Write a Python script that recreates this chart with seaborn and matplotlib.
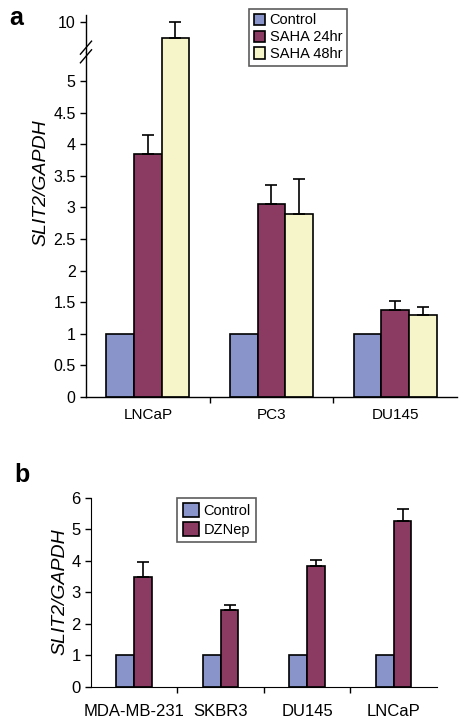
import pandas as pd
import matplotlib
matplotlib.use("Agg")
import matplotlib.pyplot as plt
import seaborn as sns

# Panel a data
lines_a = ["LNCaP", "PC3", "DU145"]
groups_a = ["Control", "SAHA 24hr", "SAHA 48hr"]
vals_a = {
    "Control": [1.0, 1.0, 1.0],
    "SAHA 24hr": [3.85, 3.05, 1.38],
    "SAHA 48hr": [9.5, 2.9, 1.3],
}
err_a = {
    "Control": [0, 0, 0],
    "SAHA 24hr": [0.30, 0.30, 0.14],
    "SAHA 48hr": [0.50, 0.55, 0.12],
}

# Panel b data
lines_b = ["MDA-MB-231", "SKBR3", "DU145", "LNCaP"]
groups_b = ["Control", "DZNep"]
vals_b = {
    "Control": [1.0, 1.0, 1.0, 1.0],
    "DZNep": [3.5, 2.45, 3.85, 5.27],
}
err_b = {
    "Control": [0, 0, 0, 0],
    "DZNep": [0.47, 0.15, 0.17, 0.38],
}

colors = {"Control": "#8994CA", "SAHA 24hr": "#8B3A62", "SAHA 48hr": "#F6F5C9", "DZNep": "#8B3A62"}


def long_df(lines, groups, vals):
    rows = []
    for g in groups:
        for ln, v in zip(lines, vals[g]):
            rows.append({"line": ln, "group": g, "value": v})
    return pd.DataFrame(rows)


def draw_bars(ax, df, lines, groups, errs, width, legend):
    sns.barplot(data=df, x="line", y="value", hue="group", order=lines, hue_order=groups,
                palette=colors, width=width, edgecolor="black", linewidth=1.2,
                saturation=1, errorbar=None, legend=legend, ax=ax)
    # only upper error bars, like the original
    for cont, g in zip(ax.containers, groups):
        for bar, e in zip(cont, errs[g]):
            if e > 0:
                xc = bar.get_x() + bar.get_width() / 2
                ax.errorbar(xc, bar.get_height(), yerr=[[0], [e]], color="black",
                            capsize=4, elinewidth=1.2, capthick=1.2, clip_on=True)


plt.rcParams["font.family"] = ["Liberation Sans", "DejaVu Sans"]
fig = plt.figure(figsize=(4.63, 7.22), dpi=100)

df_a = long_df(lines_a, groups_a, vals_a)
# upper part first so the lower axes (with legend) draws on top
ax_hi = fig.add_axes([0.1857, 0.9279, 0.8013, 0.0512])
ax_lo = fig.add_axes([0.1857, 0.4501, 0.8013, 0.4778])

draw_bars(ax_hi, df_a, lines_a, groups_a, err_a, 0.67, False)
draw_bars(ax_lo, df_a, lines_a, groups_a, err_a, 0.67, True)

ax_lo.set_ylim(0, 5.46)
ax_lo.set_yticks([0, 0.5, 1, 1.5, 2, 2.5, 3, 3.5, 4, 4.5, 5])
ax_lo.set_yticklabels(["0", "0.5", "1", "1.5", "2", "2.5", "3", "3.5", "4", "4.5", "5"])
ax_hi.set_ylim(9.06, 10.22)
ax_hi.set_yticks([10])
ax_hi.set_xticks([])

for ax in (ax_lo, ax_hi):
    ax.set_xlabel("")
    ax.set_ylabel("")
    ax.spines["top"].set_visible(False)
    ax.spines["right"].set_visible(False)
    ax.tick_params(axis="y", labelsize=11.5, length=4, width=1, direction="out")
    ax.spines["left"].set_linewidth(1)
ax_hi.spines["bottom"].set_visible(False)
ax_lo.set_xlim(-0.5, 2.5)
ax_hi.set_xlim(-0.5, 2.5)
ax_lo.set_xticks([0.5, 1.5], minor=True)
ax_lo.tick_params(axis="x", which="major", length=0, labelsize=11, pad=8)
ax_lo.tick_params(axis="x", which="minor", length=4, width=1)
ax_lo.spines["bottom"].set_linewidth(1)

# axis break marks
for dy in (-0.006, 0.006):
    fig.add_artist(plt.Line2D([0.1857 - 0.012, 0.1857 + 0.012], [0.928 + dy - 0.009, 0.928 + dy + 0.009],
                              color="black", lw=1))

leg = ax_lo.legend(loc="upper left", bbox_to_anchor=(0.44, 1.125), frameon=True, fontsize=10.5,
                   handlelength=0.8, handleheight=0.8, handletextpad=0.3, borderpad=0.3,
                   labelspacing=0.2, fancybox=False, borderaxespad=0)
leg.get_frame().set_edgecolor("#333333")
leg.get_frame().set_linewidth(1.2)

fig.text(0.088, 0.747, "SLIT2/GAPDH", rotation=90, style="italic", fontsize=14,
         ha="center", va="center")
fig.text(0.02, 0.975, "a", fontsize=18, fontweight="bold", ha="left", va="center")

# Panel b
df_b = long_df(lines_b, groups_b, vals_b)
ax_b = fig.add_axes([0.1965, 0.0485, 0.7473, 0.2618])
draw_bars(ax_b, df_b, lines_b, groups_b, err_b, 0.41, True)
ax_b.set_ylim(0, 6)
ax_b.set_xlim(-0.5, 3.5)
ax_b.set_yticks([0, 1, 2, 3, 4, 5, 6])
ax_b.set_xlabel("")
ax_b.set_ylabel("")
ax_b.spines["top"].set_visible(False)
ax_b.spines["right"].set_visible(False)
ax_b.set_xticks([0.5, 1.5, 2.5], minor=True)
ax_b.tick_params(axis="x", which="major", length=0, labelsize=12, pad=12)
ax_b.tick_params(axis="x", which="minor", length=4, width=1)
ax_b.tick_params(axis="y", labelsize=12, length=4, width=1)
leg_b = ax_b.legend(loc="upper left", bbox_to_anchor=(0.25, 1.0), frameon=True, fontsize=10.5,
                    handlelength=1.1, handleheight=1.1, handletextpad=0.35, borderpad=0.35,
                    labelspacing=0.3, fancybox=False, borderaxespad=0)
leg_b.get_frame().set_edgecolor("#333333")
leg_b.get_frame().set_linewidth(1.2)

fig.text(0.13, 0.181, "SLIT2/GAPDH", rotation=90, style="italic", fontsize=14,
         ha="center", va="center")
fig.text(0.03, 0.342, "b", fontsize=18, fontweight="bold", ha="left", va="center")

fig.savefig("out.png", dpi=100)
